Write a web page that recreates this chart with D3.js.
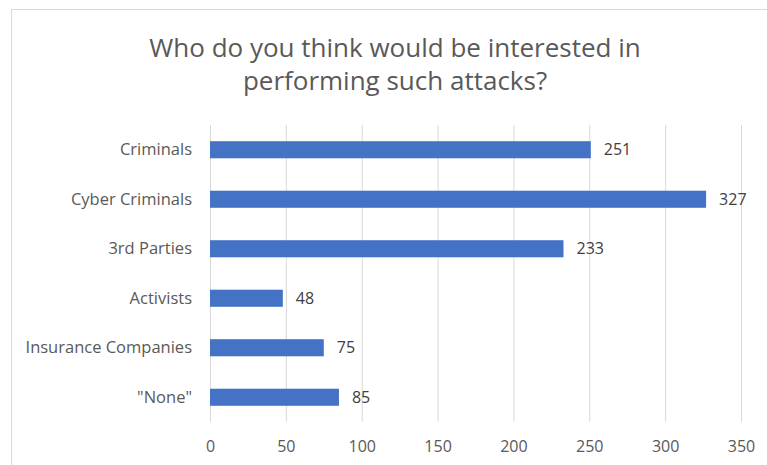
<!DOCTYPE html>
<html>
<head>
<meta charset="utf-8">
<script src="https://cdn.jsdelivr.net/npm/d3@7/dist/d3.min.js"></script>
<style>
  html, body { margin: 0; padding: 0; background: #fff; }
  svg { display: block; font-family: "Open Sans", "Noto Sans", sans-serif; }
</style>
</head>
<body>
<div id="chart"></div>
<script>
// Survey answers: who would be interested in performing such attacks
const categories = ["Criminals", "Cyber Criminals", "3rd Parties", "Activists", "Insurance Companies", "\"None\""];
const counts = [251, 327, 233, 48, 75, 85];
const xTicks = [0, 50, 100, 150, 200, 250, 300, 350];
const titleLines = ["Who do you think would be interested in", "performing such attacks?"];

const width = 767, height = 465;
const svg = d3.select("#chart").append("svg")
  .attr("width", width).attr("height", height);

// chart frame
svg.append("rect")
  .attr("x", 11.5).attr("y", 9.5)
  .attr("width", width).attr("height", height)
  .attr("fill", "#fff").attr("stroke", "#d9d9d9").attr("stroke-width", 1);

const plot = { left: 210, right: 741, top: 125, bottom: 422 };

const x = d3.scaleLinear().domain([0, 350]).range([plot.left, plot.right]);
const y = d3.scaleBand().domain(categories).range([plot.top, plot.bottom])
  .paddingInner(0.655).paddingOuter(0.3275);

// title
svg.append("text")
  .attr("x", 395).attr("y", 57)
  .attr("text-anchor", "middle")
  .attr("fill", "#595959")
  .attr("font-size", 26)
  .selectAll("tspan").data(titleLines).join("tspan")
  .attr("x", 395)
  .attr("dy", (d, i) => i === 0 ? 0 : 33)
  .text(d => d);

// vertical gridlines
svg.append("g").selectAll("line").data(xTicks).join("line")
  .attr("x1", d => x(d) + 0.5).attr("x2", d => x(d) + 0.5)
  .attr("y1", plot.top).attr("y2", plot.bottom)
  .attr("stroke", "#d9d9d9").attr("stroke-width", 1);

// x axis labels
const xAxis = d3.axisBottom(x).tickValues(xTicks).tickSize(0).tickPadding(0);
const gx = svg.append("g").attr("transform", `translate(0, ${plot.bottom + 19})`).call(xAxis);
gx.select(".domain").remove();
gx.selectAll("text").attr("fill", "#595959").attr("font-size", 16)
  .attr("font-family", "\"Open Sans\", sans-serif").attr("dy", "0.71em");

// category labels
const yAxis = d3.axisLeft(y).tickSize(0).tickPadding(0);
const gy = svg.append("g").attr("transform", `translate(${plot.left - 18}, 0)`).call(yAxis);
gy.select(".domain").remove();
gy.selectAll("text").attr("fill", "#595959").attr("font-size", 16.5)
  .attr("font-family", "\"Open Sans\", sans-serif");

// bars
svg.append("g").selectAll("rect").data(counts).join("rect")
  .attr("x", x(0))
  .attr("y", (d, i) => y(categories[i]))
  .attr("width", d => x(d) - x(0))
  .attr("height", y.bandwidth())
  .attr("fill", "#4472c4");

// value labels
svg.append("g").selectAll("text").data(counts).join("text")
  .attr("x", d => x(d) + 13)
  .attr("y", (d, i) => y(categories[i]) + y.bandwidth() / 2)
  .attr("dy", "0.35em")
  .attr("fill", "#404040")
  .attr("font-size", 16)
  .text(d => d);
</script>
</body>
</html>
